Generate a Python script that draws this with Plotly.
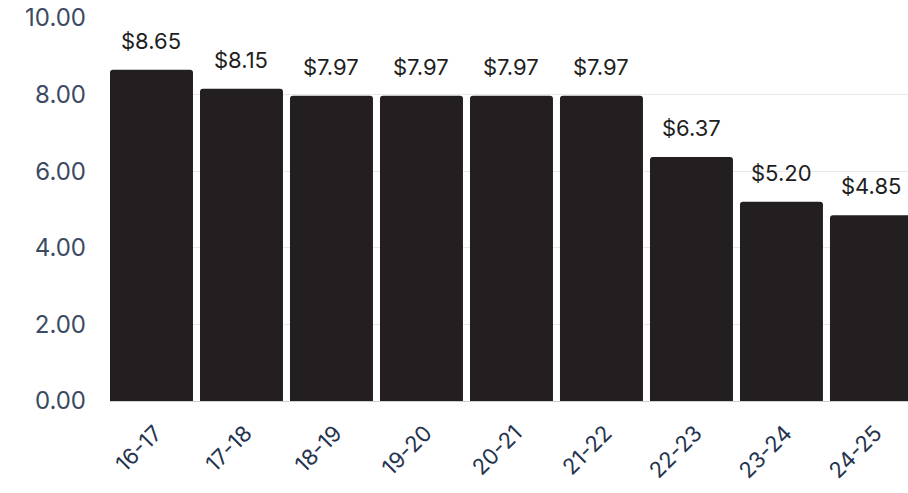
import plotly.graph_objects as go

categories = ["16-17", "17-18", "18-19", "19-20", "20-21", "21-22", "22-23", "23-24", "24-25"]
values = [8.65, 8.15, 7.97, 7.97, 7.97, 7.97, 6.37, 5.20, 4.85]
labels = ["$8.65", "$8.15", "$7.97", "$7.97", "$7.97", "$7.97", "$6.37", "$5.20", "$4.85"]
y_ticks = [0, 2, 4, 6, 8, 10]

fig = go.Figure(go.Bar(
    x=categories, y=values,
    marker=dict(color="#231f20", cornerradius=3, line=dict(width=0)),
))

for c, v, t in zip(categories, values, labels):
    fig.add_annotation(x=c, y=v, text=t, showarrow=False, yanchor="middle",
                       yshift=29, font=dict(family="Inter, sans-serif", size=22, color="#1e1e1e"))

fig.update_layout(
    width=908, height=493,
    margin=dict(l=110, r=0, t=18, b=92),
    paper_bgcolor="white", plot_bgcolor="white",
    font=dict(family="Inter, sans-serif"),
    bargap=0.078,
    showlegend=False,
)
fig.update_xaxes(
    range=[-0.461, 8.406], tickangle=-45,
    tickfont=dict(size=22, color="#25344f"),
    showgrid=False, showline=False, ticks="",
    ticklabelstandoff=14, ticklabelshift=4,
)
fig.update_yaxes(
    range=[0, 10], tickvals=y_ticks, tickformat=".2f",
    tickfont=dict(size=24, color="#3c4a62"),
    showgrid=True, gridcolor="#e9e9e9", gridwidth=1,
    zeroline=True, zerolinecolor="#cfcfcf", zerolinewidth=1,
    ticklabelstandoff=23,
)

fig.write_html("out.html")
